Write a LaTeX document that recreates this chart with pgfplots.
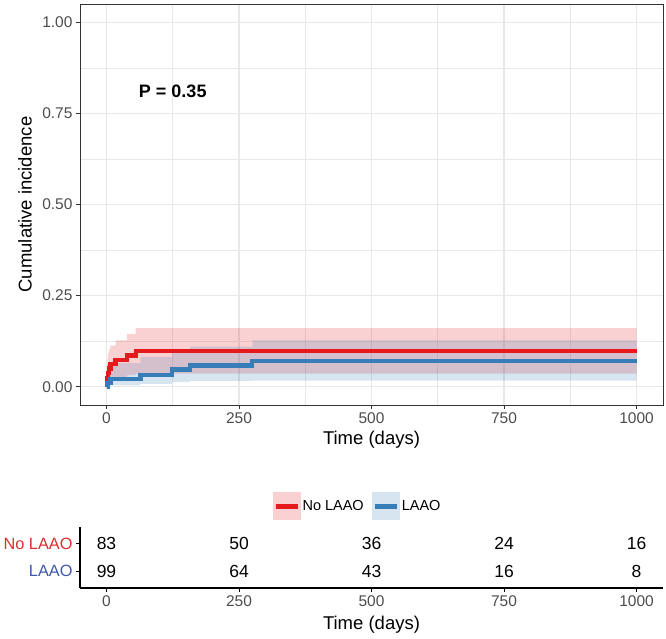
\documentclass[border=0pt]{standalone}
\usepackage{pgfplots}
\pgfplotsset{compat=1.18}
\usepgfplotslibrary{fillbetween}
\usepackage{fontspec}
\setmainfont{Liberation Sans}
\definecolor{cred}{HTML}{E41A1C}
\definecolor{cblue}{HTML}{377EB8}
\definecolor{lred}{RGB}{214,48,48}
\definecolor{lblue}{RGB}{62,88,168}
\definecolor{gridc}{RGB}{232,232,232}
\definecolor{g20}{RGB}{51,51,51}
\definecolor{g30}{RGB}{77,77,77}

\pgfplotstableread{
t est lo hi
0 0 0 0
1 0.012 0.002 0.065
2 0.025 0.006 0.080
3 0.037 0.011 0.092
5 0.050 0.016 0.103
7.5 0.062 0.022 0.113
17 0.074 0.027 0.127
39 0.086 0.032 0.145
55 0.099 0.036 0.161
1000 0.099 0.036 0.161
}\noLAAO

\pgfplotstableread{
t est lo hi
0 0 0 0
2 0.010 0.001 0.050
7.5 0.021 0.004 0.065
64 0.033 0.008 0.082
124 0.047 0.013 0.097
158 0.058 0.016 0.110
275 0.071 0.017 0.127
1000 0.071 0.017 0.127
}\LAAO

\pgfplotstableread{
t y n
0 2 83
250 2 50
500 2 36
750 2 24
1000 2 16
0 1 99
250 1 64
500 1 43
750 1 16
1000 1 8
}\risk

\begin{document}
\begin{tikzpicture}
\path (0pt,0pt) rectangle (666pt,638pt);
\begin{axis}[
  at={(80pt,233pt)}, anchor=south west,
  scale only axis, width=583pt, height=401pt,
  xmin=-50, xmax=1050, ymin=-0.05, ymax=1.05,
  xtick={0,250,500,750,1000}, xticklabels={0,250,500,750,1000},
  ytick={0,0.25,0.5,0.75,1}, yticklabels={0.00,0.25,0.50,0.75,1.00},
  minor xtick={125,375,625,875}, minor ytick={0.125,0.375,0.625,0.875},
  xtick pos=bottom, ytick pos=left,
  grid=both,
  major grid style={gridc, line width=1.1pt},
  minor grid style={gridc, line width=0.55pt},
  tick align=outside, major tick length=4pt, minor tick length=0pt,
  tick style={g20, line width=0.8pt},
  axis line style={g20, line width=0.8pt},
  tick label style={font=\fontsize{15.5}{18}\selectfont, text=g30},
  /pgf/number format/assume math mode=true,
  xlabel={Time (days)}, ylabel={Cumulative incidence},
  every axis x label/.style={at={(axis description cs:0.5,-0.0873)}, anchor=center, font=\fontsize{18.5}{22}\selectfont},
  every axis y label/.style={at={(axis description cs:-0.0943,0.5)}, rotate=90, anchor=center, font=\fontsize{18.5}{22}\selectfont},
  legend style={at={(axis description cs:0.476,-0.253)}, anchor=center, draw=none, fill=none,
    font=\fontsize{14.5}{17}\selectfont, legend columns=2,
    /tikz/every even column/.append style={column sep=6pt}},
  legend cell align=left,
]
\addplot[const plot mark left, draw=none, name path=rhi, forget plot] table[x=t,y=hi] {\noLAAO};
\addplot[const plot mark left, draw=none, name path=rlo, forget plot] table[x=t,y=lo] {\noLAAO};
\addplot[cred, fill opacity=0.2, draw=none, forget plot] fill between[of=rhi and rlo];
\addplot[const plot mark left, draw=none, name path=bhi, forget plot] table[x=t,y=hi] {\LAAO};
\addplot[const plot mark left, draw=none, name path=blo, forget plot] table[x=t,y=lo] {\LAAO};
\addplot[cblue, fill opacity=0.2, draw=none, forget plot] fill between[of=bhi and blo];
\addplot[const plot mark left, cred, line width=4.3pt, mark=none, forget plot] table[x=t,y=est] {\noLAAO};
\addplot[const plot mark left, cblue, line width=4.3pt, mark=none, forget plot] table[x=t,y=est] {\LAAO};
\node[font=\bfseries\fontsize{18}{21}\selectfont] at (axis cs:125,0.81) {P = 0.35};
\addlegendimage{legend image code/.code={\fill[cred, fill opacity=0.2, draw=none] (0pt,-14pt) rectangle (28pt,14pt); \draw[cred, line width=4.3pt] (3pt,0pt) -- (25pt,0pt);}}
\addlegendentry{No LAAO}
\addlegendimage{legend image code/.code={\fill[cblue, fill opacity=0.2, draw=none] (0pt,-14pt) rectangle (28pt,14pt); \draw[cblue, line width=4.3pt] (3pt,0pt) -- (25pt,0pt);}}
\addlegendentry{LAAO}
\end{axis}

\begin{axis}[
  at={(80pt,50pt)}, anchor=south west,
  scale only axis, width=583pt, height=61pt,
  xmin=-50, xmax=1050, ymin=0.4, ymax=2.6,
  axis x line*=bottom, axis y line*=left,
  xtick={0,250,500,750,1000}, xticklabels={0,250,500,750,1000},
  ytick={1,2}, yticklabels={\textcolor{lblue}{LAAO},\textcolor{lred}{No LAAO}},
  tick align=outside, major tick length=4pt,
  tick style={black, line width=0.8pt},
  axis line style={black, line width=1.2pt},
  tick label style={font=\fontsize{15.5}{18}\selectfont},
  yticklabel style={font=\fontsize{16.3}{19}\selectfont},
  xticklabel style={text=g30},
  /pgf/number format/assume math mode=true,
  xlabel={Time (days)},
  every axis x label/.style={at={(axis description cs:0.5,-0.6)}, anchor=center, font=\fontsize{18.5}{22}\selectfont},
]
\addplot[draw=none, mark=none, nodes near coords, point meta=explicit symbolic,
  every node near coord/.append style={anchor=center, font=\fontsize{17.5}{20}\selectfont, text=black}]
  table[x=t, y=y, meta=n] {\risk};
\end{axis}
\end{tikzpicture}
\end{document}
